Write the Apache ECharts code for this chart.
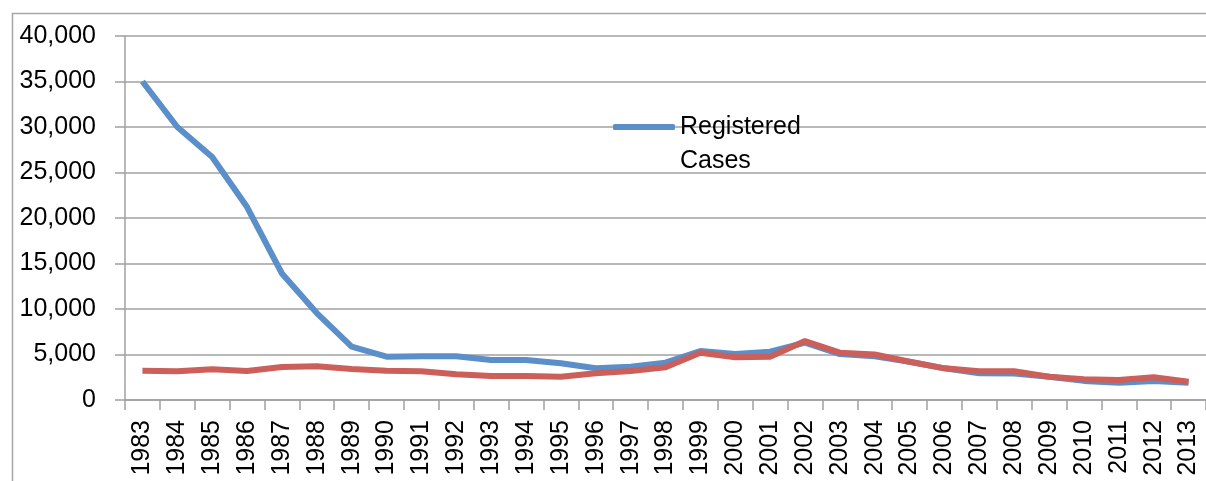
<!DOCTYPE html>
<html>
<head>
<meta charset="utf-8">
<script src="https://cdn.jsdelivr.net/npm/echarts@6/dist/echarts.min.js"></script>
<style>
html,body{margin:0;padding:0;background:#fff;}
#chart{width:1206px;height:481px;}
</style>
</head>
<body>
<div id="chart"></div>
<script>
const years = ['1983','1984','1985','1986','1987','1988','1989','1990','1991','1992','1993','1994','1995','1996','1997','1998','1999','2000','2001','2002','2003','2004','2005','2006','2007','2008','2009','2010','2011','2012','2013'];
const registeredCases = [35000, 30000, 26700, 21200, 13900, 9550, 5860, 4760, 4800, 4800, 4400, 4400, 4030, 3480, 3660, 4100, 5380, 5050, 5300, 6300, 5050, 4800, 4200, 3480, 2950, 2900, 2560, 2100, 1900, 2100, 1900];
const secondSeries = [3220, 3150, 3370, 3190, 3630, 3700, 3400, 3220, 3150, 2820, 2640, 2640, 2560, 2930, 3190, 3600, 5200, 4690, 4760, 6480, 5200, 5000, 4200, 3480, 3150, 3150, 2560, 2270, 2200, 2500, 2000];
const legendNames = ['Registered Cases'];

const chart = echarts.init(document.getElementById('chart'), null, {renderer: 'canvas'});
const font = '"Liberation Sans", Arial, sans-serif';
const gridColor = '#a0a0a0';
chart.setOption({
  animation: false,
  backgroundColor: '#ffffff',
  graphic: [{
    type: 'rect', left: 10, top: 11, silent: true,
    shape: {width: 1300, height: 600},
    style: {fill: 'none', stroke: '#a6a6a6', lineWidth: 1.5}
  }],
  grid: {left: 125, top: 36, right: -7, bottom: 81, containLabel: false},
  legend: {
    data: legendNames,
    left: 613, top: 76, padding: 0,
    icon: 'roundRect', itemWidth: 62, itemHeight: 6,
    formatter: () => ' \nRegistered\nCases',
    textStyle: {fontFamily: font, fontSize: 25, color: '#000', lineHeight: 34}
  },
  xAxis: {
    type: 'category', data: years, boundaryGap: true,
    axisLine: {lineStyle: {color: gridColor, width: 1.5}},
    axisTick: {show: true, length: 10, alignWithLabel: false, lineStyle: {color: gridColor, width: 1.5}},
    axisLabel: {rotate: 90, margin: 20, fontFamily: font, fontSize: 25, color: '#000', interval: 0}
  },
  yAxis: {
    type: 'value', min: 0, max: 40000, interval: 5000,
    axisLine: {show: true, lineStyle: {color: gridColor, width: 1.5}},
    axisTick: {show: true, length: 10, lineStyle: {color: gridColor, width: 1.5}},
    splitLine: {lineStyle: {color: gridColor, width: 1.5}},
    axisLabel: {margin: 29, fontFamily: font, fontSize: 25, color: '#000', padding: [5, 0, 0, 0],
      formatter: v => v.toLocaleString('en-US')}
  },
  series: [
    {name: 'Registered Cases', type: 'line', data: registeredCases, showSymbol: false,
     lineStyle: {color: '#5b8fc9', width: 6}, itemStyle: {color: '#5b8fc9'}},
    {name: 'Series 2', type: 'line', data: secondSeries, showSymbol: false,
     lineStyle: {color: '#cc5f5a', width: 6}, itemStyle: {color: '#cc5f5a'}}
  ]
});
</script>
</body>
</html>
